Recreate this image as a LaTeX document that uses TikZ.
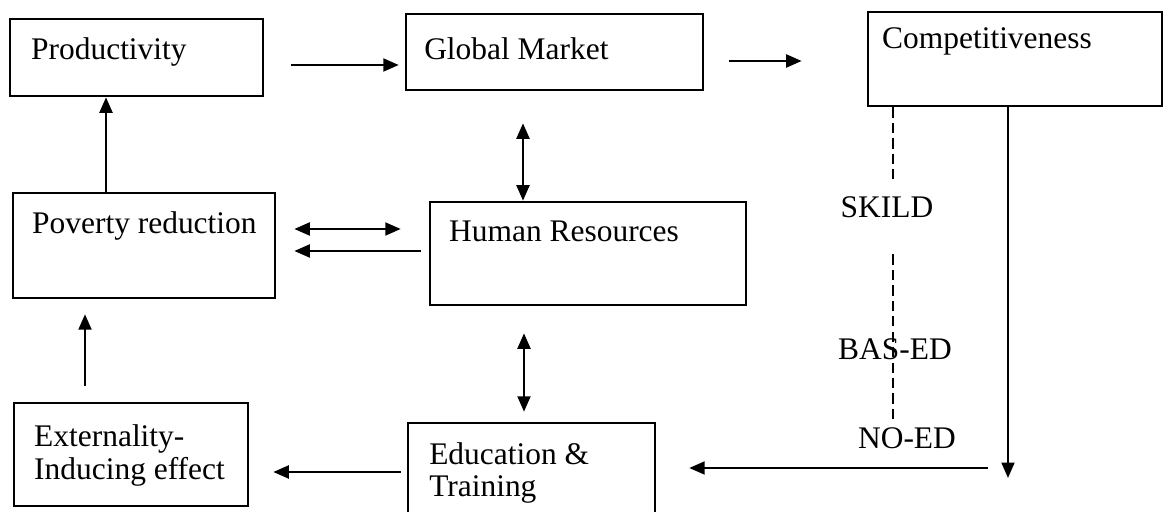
\documentclass[tikz,border=0pt]{standalone}
\usepackage{fontspec}
\setmainfont{Liberation Serif}
\usetikzlibrary{arrows.meta, positioning, calc}

\begin{document}
\begin{tikzpicture}[x=0.388pt, y=-0.388pt,
  box/.style 2 args={draw, line width=1pt, minimum width=#1, minimum height=#2, inner sep=0pt},
  lbl/.style={inner sep=0pt, font=\fontsize{12.2}{12.6}\selectfont, align=left},
  arr/.style={line width=0.9pt, -{Triangle[length=6pt, width=5pt]}},
  darr/.style={line width=0.9pt, {Triangle[length=6pt, width=5pt]}-{Triangle[length=6pt, width=5pt]}},
  dashline/.style={line width=0.8pt, dash pattern=on 4pt off 2pt}]

  \useasboundingbox (0,0) rectangle (1164,512);
  \clip (0,0) rectangle (1164,512);

  % Boxes
  \node[box={98.2pt}{29.9pt}] (prod) at (136.5,57.5) {};
  \node[box={115.2pt}{29.5pt}] (gm) at (554.5,52) {};
  \node[box={114.1pt}{36.5pt}] (comp) at (1015,59) {};
  \node[box={101.7pt}{40.7pt}] (pov) at (144,245.5) {};
  \node[box={122.6pt}{40pt}] (hr) at (588,253.5) {};
  \node[box={90.8pt}{40pt}] (ext) at (131,454.5) {};
  \node[box={95.8pt}{41.5pt}] (edu) at (531.5,476.5) {};

  % Box texts, top left of each box
  \node[lbl, anchor=west] (prodlbl) at ([shift={(22,34)}]prod.north west) {Productivity};
  \node[lbl, anchor=west] (gmlbl) at ([shift={(19,36)}]gm.north west) {Global Market};
  \node[lbl, anchor=west] (complbl) at ([shift={(15,31)}]comp.north west) {Competitiveness};
  \node[lbl, anchor=west] (povlbl) at ([shift={(20,34)}]pov.north west) {Poverty reduction};
  \node[lbl, anchor=west] (hrlbl) at ([shift={(20,31)}]hr.north west) {Human Resources};
  \node[lbl, anchor=west] (extlbl) at ([shift={(21,54)}]ext.north west) {Externality-\\Inducing effect};
  \node[lbl, anchor=west] (edulbl) at ([shift={(22,51)}]edu.north west) {Education \&\\Training};

  % Skill levels
  \node[lbl] (skild) at (887,207) {SKILD};
  \node[lbl] (based) at (895,349) {BAS-ED};
  \node[lbl] (noed) at (907,438) {NO-ED};

  % Top row
  \draw[arr] ([shift={(27,7.5)}]prod.east) -- ([shift={(-6,13)}]gm.west);
  \draw[arr] ([shift={(25,9)}]gm.east) -- ([shift={(-65,2)}]comp.west);

  % Human resources links
  \draw[darr] ([shift={(-31.5,32)}]gm.south) -- ([shift={(-65,0)}]hr.north);
  \draw[darr] ([shift={(-64,27)}]hr.south) -- ([shift={(-7.5,-10)}]edu.north);
  \draw[darr] ([shift={(18,-16.5)}]pov.east) -- ([shift={(-28,-24.5)}]hr.west);
  \draw[arr] ([shift={(-8,-2.5)}]hr.west) -- ([shift={(18,5.5)}]pov.east);

  % Left column
  \draw[arr] ([shift={(-38,0)}]pov.north) -- ([shift={(-30.5,0)}]prod.south);
  \draw[arr] ([shift={(-46,-16)}]ext.north) -- ([shift={(-59,15)}]pov.south);
  \draw[arr] ([shift={(-6,-4.5)}]edu.west) -- ([shift={(24,17.5)}]ext.east);

  % Feedback from competitiveness
  \coordinate (down) at (1008,478);
  \coordinate (back) at (988,468);
  \draw[arr] ([shift={(-7,0)}]comp.south) -- (down);
  \draw[arr] (back) -- ([shift={(33,-8.5)}]edu.east);

  % Dashed skill scale
  \coordinate (dtop) at ([shift={(-122,0)}]comp.south);
  \draw[dashline] (dtop) -- ++(0,76);
  \draw[dashline] ($(dtop)+(0,147)$) -- ($(dtop |- noed.north)+(0,-3)$);
\end{tikzpicture}
\end{document}
